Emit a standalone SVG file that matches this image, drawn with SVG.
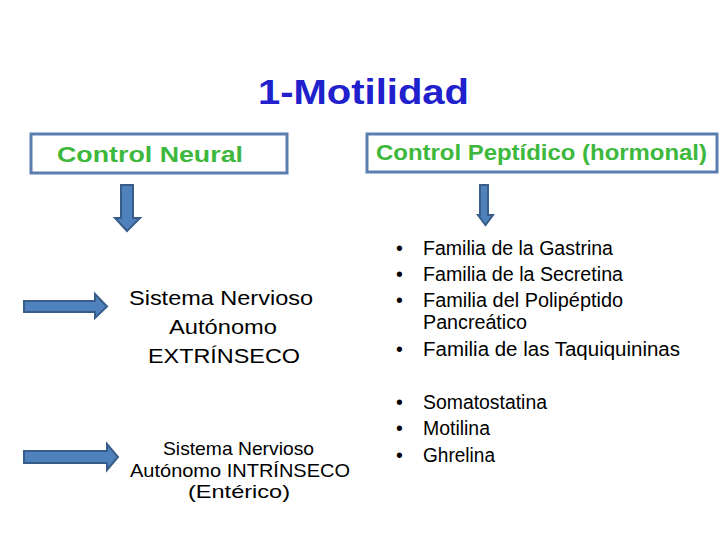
<svg xmlns="http://www.w3.org/2000/svg" width="720" height="540" viewBox="0 0 720 540">
<style>
  .title{font-family:"Liberation Sans",Arial,sans-serif;font-weight:bold;font-size:35px;fill:#2020CC}
  .box{fill:#FFFFFF;stroke:#5B7DB0;stroke-width:3}
  .head{font-family:"Liberation Sans",Arial,sans-serif;font-weight:bold;font-size:22px;fill:#3DB83D}
  .arrow{fill:#4F81BD;stroke:#385D8A;stroke-width:2;stroke-linejoin:miter}
  .t{font-family:"Liberation Sans",Arial,sans-serif;fill:#000000}
  .big{font-size:21px}
  .mid{font-size:19px}
  .lst{font-size:19.5px}
</style>
<rect width="720" height="540" fill="#FFFFFF"/>
<g id="title"><text class="title" x="258" y="104" textLength="211" lengthAdjust="spacingAndGlyphs">1-Motilidad</text></g>
<g id="control-neural">
  <rect class="box" x="31" y="134" width="256" height="39"/>
  <text class="head" x="57" y="162" textLength="186" lengthAdjust="spacingAndGlyphs">Control Neural</text>
</g>
<g id="control-peptidico">
  <rect class="box" x="367" y="134" width="350" height="38"/>
  <text class="head" x="376" y="160" textLength="331" lengthAdjust="spacingAndGlyphs">Control Peptídico (hormonal)</text>
</g>
<g id="connectors">
  <path class="arrow" d="M121,185 H133 V218 H140 L127,231 L115,218 H121 Z"/>
  <path class="arrow" d="M480,185 H488 V215 H493 L485.5,225 L478,215 H480 Z"/>
  <path class="arrow" d="M24,301 H95 V294 L107,306.5 L95,318 V312 H24 Z"/>
  <path class="arrow" d="M24,451 H107 V444 L118,457 L107,470 V463 H24 Z"/>
</g>
<g id="sna-extrinseco">
  <text class="t big" x="221" y="305" text-anchor="middle" textLength="184" lengthAdjust="spacingAndGlyphs">Sistema Nervioso</text>
  <text class="t big" x="223" y="334" text-anchor="middle" textLength="108" lengthAdjust="spacingAndGlyphs">Autónomo</text>
  <text class="t big" x="224" y="363" text-anchor="middle" textLength="152" lengthAdjust="spacingAndGlyphs">EXTRÍNSECO</text>
</g>
<g id="sna-intrinseco">
  <text class="t mid" x="238.5" y="455" text-anchor="middle" textLength="151" lengthAdjust="spacingAndGlyphs">Sistema Nervioso</text>
  <text class="t mid" x="240" y="477" text-anchor="middle" textLength="220" lengthAdjust="spacingAndGlyphs">Autónomo INTRÍNSECO</text>
  <text class="t mid" x="239" y="498" text-anchor="middle" textLength="102" lengthAdjust="spacingAndGlyphs">(Entérico)</text>
</g>
<g id="familias">
  <text class="t lst" x="396" y="255">•</text><text class="t lst" x="423" y="255" textLength="190" lengthAdjust="spacingAndGlyphs">Familia de la Gastrina</text>
  <text class="t lst" x="396" y="281">•</text><text class="t lst" x="423" y="281" textLength="200" lengthAdjust="spacingAndGlyphs">Familia de la Secretina</text>
  <text class="t lst" x="396" y="307">•</text><text class="t lst" x="423" y="307" textLength="200" lengthAdjust="spacingAndGlyphs">Familia del Polipéptido</text>
  <text class="t lst" x="423" y="329" textLength="104" lengthAdjust="spacingAndGlyphs">Pancreático</text>
  <text class="t lst" x="396" y="356">•</text><text class="t lst" x="423" y="356" textLength="257" lengthAdjust="spacingAndGlyphs">Familia de las Taquiquininas</text>
</g>
<g id="otros">
  <text class="t lst" x="396" y="409">•</text><text class="t lst" x="423" y="409" textLength="124" lengthAdjust="spacingAndGlyphs">Somatostatina</text>
  <text class="t lst" x="396" y="435">•</text><text class="t lst" x="423" y="435" textLength="67" lengthAdjust="spacingAndGlyphs">Motilina</text>
  <text class="t lst" x="396" y="462">•</text><text class="t lst" x="423" y="462" textLength="72" lengthAdjust="spacingAndGlyphs">Ghrelina</text>
</g>
</svg>
